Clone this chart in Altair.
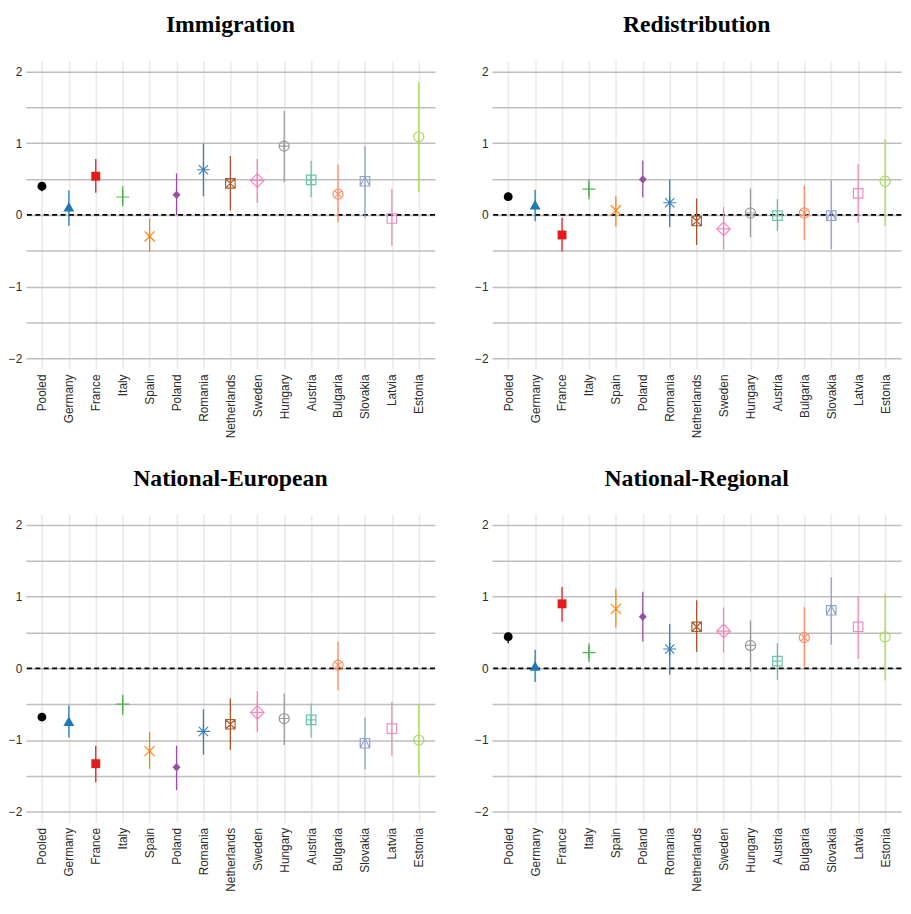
import altair as alt
import pandas as pd

countries = ["Pooled", "Germany", "France", "Italy", "Spain", "Poland", "Romania",
             "Netherlands", "Sweden", "Hungary", "Austria", "Bulgaria", "Slovakia",
             "Latvia", "Estonia"]
colors = ["#000000", "#1f78b4", "#e41a1c", "#4daf4a", "#ff7f00", "#984ea3", "#377eb8",
          "#a65628", "#f781bf", "#999999", "#66c2a5", "#fc8d62", "#8da0cb", "#e78ac3",
          "#a6d854"]
filled = [True, True, True, False, False, True, False, False, False, False, False,
          False, False, False, False]

# shapes (unit coords, [-1,1] maps to the symbol box)
C85 = "M0.85,0A0.85,0.85,0,1,1,-0.85,0A0.85,0.85,0,1,1,0.85,0Z"
SQ8 = "M-0.8,-0.8H0.8V0.8H-0.8Z"
shapes = [
    "M0.75,0A0.75,0.75,0,1,1,-0.75,0A0.75,0.75,0,1,1,0.75,0Z",        # Pooled
    "M0,-1.06L0.92,0.53L-0.92,0.53Z",                                    # Germany
    "M-0.75,-0.75H0.75V0.75H-0.75Z",                                     # France
    "M-1.1,0H1.1M0,-1.1V1.1",                                            # Italy
    "M-0.85,-0.85L0.85,0.85M0.85,-0.85L-0.85,0.85",                      # Spain
    "M0,-0.7L0.67,0L0,0.7L-0.67,0Z",                                     # Poland
    "M-1.1,0H1.1M0,-1.1V1.1M-0.78,-0.78L0.78,0.78M0.78,-0.78L-0.78,0.78",  # Romania
    SQ8 + "M-0.8,-0.8L0.8,0.8M0.8,-0.8L-0.8,0.8",                        # Netherlands
    "M0,-1.15L1.15,0L0,1.15L-1.15,0ZM-1.15,0H1.15M0,-1.15V1.15",         # Sweden
    C85 + "M-0.85,0H0.85M0,-0.85V0.85",                                  # Hungary
    SQ8 + "M-0.8,0H0.8M0,-0.8V0.8",                                      # Austria
    C85 + "M-0.6,-0.6L0.6,0.6M0.6,-0.6L-0.6,0.6",                        # Bulgaria
    SQ8 + "M-0.8,0.8L0,-0.8L0.8,0.8",                                    # Slovakia
    SQ8,                                                                 # Latvia
    C85,                                                                 # Estonia
]

titles = ["Immigration", "Redistribution", "National-European", "National-Regional"]

imm_est = [0.40, 0.09, 0.54, 0.25, -0.30, 0.28, 0.63, 0.44, 0.48, 0.96, 0.49, 0.29, 0.47, -0.05, 1.09]
imm_lo = [0.33, -0.15, 0.31, 0.12, -0.51, 0.00, 0.26, 0.06, 0.17, 0.455, 0.245, -0.105, -0.04, -0.43, 0.32]
imm_hi = [0.46, 0.34, 0.78, 0.40, -0.05, 0.58, 1.00, 0.82, 0.78, 1.45, 0.755, 0.70, 0.96, 0.36, 1.855]

red_est = [0.255, 0.12, -0.28, 0.36, 0.065, 0.495, 0.17, -0.085, -0.195, 0.027, -0.01, 0.027, -0.01, 0.30, 0.47]
red_lo = [0.21, -0.09, -0.51, 0.22, -0.16, 0.245, -0.17, -0.42, -0.48, -0.31, -0.22, -0.355, -0.48, -0.11, -0.15]
red_hi = [0.30, 0.35, -0.04, 0.495, 0.26, 0.76, 0.495, 0.23, 0.11, 0.37, 0.22, 0.41, 0.48, 0.71, 1.06]

ne_est = [-0.68, -0.76, -1.33, -0.50, -1.155, -1.38, -0.88, -0.78, -0.615, -0.70, -0.72, 0.045, -1.045, -0.84, -1.0]
ne_lo = [-0.73, -0.965, -1.59, -0.65, -1.40, -1.70, -1.205, -1.14, -0.89, -1.07, -0.965, -0.305, -1.41, -1.22, -1.49]
ne_hi = [-0.63, -0.52, -1.08, -0.37, -0.89, -1.08, -0.57, -0.42, -0.32, -0.35, -0.49, 0.375, -0.69, -0.47, -0.505]

nr_est = [0.44, 0.01, 0.90, 0.22, 0.83, 0.72, 0.27, 0.58, 0.52, 0.32, 0.10, 0.43, 0.81, 0.58, 0.44]
nr_lo = [0.35, -0.19, 0.65, 0.09, 0.57, 0.375, -0.09, 0.23, 0.22, -0.045, -0.16, 0.0, 0.33, 0.13, -0.17]
nr_hi = [0.49, 0.26, 1.135, 0.35, 1.11, 1.07, 0.62, 0.95, 0.85, 0.67, 0.35, 0.855, 1.27, 1.01, 1.04]

y_ticks = [-2, -1.5, -1, -0.5, 0, 0.5, 1, 1.5, 2]

STEP, H = 27.25, 312

cscale = alt.Scale(domain=countries, range=colors)
sscale = alt.Scale(domain=countries, range=shapes)
yscale = alt.Scale(domain=[-2.15, 2.15], nice=False, zero=False)
yaxis = alt.Axis(values=y_ticks,
                 labelExpr="datum.value % 1 == 0 ? format(datum.value, 'd') : ''",
                 grid=True, gridColor="#bebebe", gridWidth=1.5, title=None,
                 labelPadding=4, minExtent=18, maxExtent=18)
xaxis = alt.Axis(grid=True, gridColor="#ebebeb", gridWidth=1.7, title=None,
                 labelAngle=-90, labelPadding=5)
xenc = alt.X("country:N", sort=countries, scale=alt.Scale(type="point", padding=0.6),
             axis=xaxis)


def panel(title, est, lo, hi):
    df = pd.DataFrame({"country": countries, "est": est, "lo": lo, "hi": hi,
                       "filled": filled})
    base = alt.Chart(df)
    zero = alt.Chart(pd.DataFrame({"z": [0]})).mark_rule(
        color="black", strokeDash=[5, 3.5], strokeWidth=1.8
    ).encode(y=alt.Y("z:Q", scale=yscale, axis=yaxis))
    bars = base.mark_rule(strokeWidth=1.3).encode(
        x=xenc,
        y=alt.Y("lo:Q", scale=yscale, axis=yaxis),
        y2="hi:Q",
        color=alt.Color("country:N", scale=cscale, legend=None),
    )
    pts_f = base.transform_filter("datum.filled").mark_point(
        filled=True, size=144, opacity=1, strokeWidth=0
    ).encode(
        x=xenc,
        y=alt.Y("est:Q", scale=yscale, axis=yaxis),
        shape=alt.Shape("country:N", scale=sscale, legend=None),
        color=alt.Color("country:N", scale=cscale, legend=None),
    )
    pts_o = base.transform_filter("!datum.filled").mark_point(
        filled=False, size=144, opacity=0.95, strokeWidth=1.2
    ).encode(
        x=xenc,
        y=alt.Y("est:Q", scale=yscale, axis=yaxis),
        shape=alt.Shape("country:N", scale=sscale, legend=None),
        color=alt.Color("country:N", scale=cscale, legend=None),
    )
    return alt.layer(zero, bars, pts_f, pts_o).properties(
        width=alt.Step(STEP), height=H, title=alt.TitleParams(title)
    )


p1 = panel(titles[0], imm_est, imm_lo, imm_hi)
p2 = panel(titles[1], red_est, red_lo, red_hi)
p3 = panel(titles[2], ne_est, ne_lo, ne_hi)
p4 = panel(titles[3], nr_est, nr_lo, nr_hi)

chart = alt.vconcat(
    alt.hconcat(p1, p2, spacing=38),
    alt.hconcat(p3, p4, spacing=38),
    spacing=29,
).properties(
    padding={"left": 0, "top": 0, "right": 0, "bottom": 0}
).configure_view(stroke=None).configure_axis(
    labelFont="Liberation Sans", labelFontSize=12, labelColor="#2b2b2b",
    domain=False, ticks=False
).configure_title(
    font="Liberation Serif", fontSize=24, fontWeight="bold", color="black",
    anchor="middle", offset=24
)

chart.save("out.html", embed_options={"renderer": "svg", "actions": False})
